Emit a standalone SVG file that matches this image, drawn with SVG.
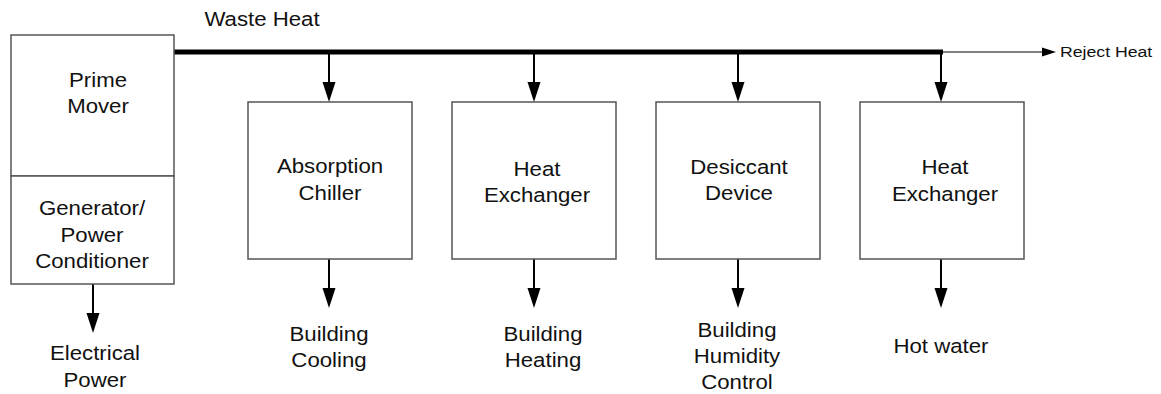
<svg xmlns="http://www.w3.org/2000/svg" xmlns:xlink="http://www.w3.org/1999/xlink" width="1161" height="394" viewBox="0 0 1161 394">
<style>
  .box{fill:#fff;stroke:#555;stroke-width:1.5}
  .t{font-family:"Liberation Sans",Arial,sans-serif;font-size:19.5px;fill:#111;text-anchor:middle}
  .ts{font-family:"Liberation Sans",Arial,sans-serif;font-size:15.5px;fill:#111;text-anchor:start}
  .ln{stroke:#000;stroke-width:2;fill:none}
  .bus{stroke:#000;stroke-width:5;fill:none}
  .thin{stroke:#000;stroke-width:1;fill:none}
</style>
<defs>
  <path id="ah" d="M-6.5,-20 L6.5,-20 L0,0 Z" fill="#000"/>
  <path id="ahr" d="M-14,-4.5 L-14,4.5 L0,0 Z" fill="#000"/>
</defs>
<rect width="1161" height="394" fill="#fff"/>

<g id="connectors">
  <line class="bus" x1="172" y1="52" x2="943" y2="52"/>
  <line class="thin" x1="943" y1="52" x2="1045" y2="52"/>
  <use xlink:href="#ahr" transform="translate(1056,52)"/>
  <line class="ln" x1="329" y1="52" x2="329" y2="85"/>
  <use xlink:href="#ah" transform="translate(329,102)"/>
  <line class="ln" x1="534" y1="52" x2="534" y2="85"/>
  <use xlink:href="#ah" transform="translate(534,102)"/>
  <line class="ln" x1="738" y1="52" x2="738" y2="85"/>
  <use xlink:href="#ah" transform="translate(738,102)"/>
  <line class="ln" x1="941" y1="52" x2="941" y2="85"/>
  <use xlink:href="#ah" transform="translate(941,102)"/>
  <line class="ln" x1="329" y1="259" x2="329" y2="292"/>
  <use xlink:href="#ah" transform="translate(329,308)"/>
  <line class="ln" x1="534" y1="259" x2="534" y2="292"/>
  <use xlink:href="#ah" transform="translate(534,308)"/>
  <line class="ln" x1="738" y1="259" x2="738" y2="292"/>
  <use xlink:href="#ah" transform="translate(738,308)"/>
  <line class="ln" x1="941" y1="259" x2="941" y2="292"/>
  <use xlink:href="#ah" transform="translate(941,308)"/>
  <line class="ln" x1="93" y1="284" x2="93" y2="317"/>
  <use xlink:href="#ah" transform="translate(93,333)"/>
</g>

<g id="waste-heat-label">
  <text class="t" transform="translate(262,26) scale(1.14,1)">Waste Heat</text>
</g>
<g id="reject-heat-label">
  <text class="ts" transform="translate(1060,57) scale(1.14,1)">Reject Heat</text>
</g>

<g id="prime-mover">
  <rect class="box" x="11" y="35" width="163" height="141"/>
  <text class="t" transform="translate(98,87) scale(1.14,1)">Prime</text>
  <text class="t" transform="translate(98,113) scale(1.14,1)">Mover</text>
</g>
<g id="generator">
  <rect class="box" x="11" y="176" width="163" height="108"/>
  <text class="t" transform="translate(92,215) scale(1.14,1)">Generator/</text>
  <text class="t" transform="translate(92,242) scale(1.14,1)">Power</text>
  <text class="t" transform="translate(92,268) scale(1.14,1)">Conditioner</text>
</g>
<g id="electrical-power">
  <text class="t" transform="translate(95,360) scale(1.14,1)">Electrical</text>
  <text class="t" transform="translate(95,387) scale(1.14,1)">Power</text>
</g>

<g id="absorption-chiller">
  <rect class="box" x="248" y="102" width="164" height="157"/>
  <text class="t" transform="translate(330,173) scale(1.14,1)">Absorption</text>
  <text class="t" transform="translate(330,200) scale(1.14,1)">Chiller</text>
</g>
<g id="heat-exchanger-1">
  <rect class="box" x="452" y="102" width="164" height="157"/>
  <text class="t" transform="translate(537,176) scale(1.14,1)">Heat</text>
  <text class="t" transform="translate(537,202) scale(1.14,1)">Exchanger</text>
</g>
<g id="desiccant-device">
  <rect class="box" x="656" y="102" width="164" height="157"/>
  <text class="t" transform="translate(739,174) scale(1.14,1)">Desiccant</text>
  <text class="t" transform="translate(739,200) scale(1.14,1)">Device</text>
</g>
<g id="heat-exchanger-2">
  <rect class="box" x="860" y="102" width="164" height="157"/>
  <text class="t" transform="translate(945,174) scale(1.14,1)">Heat</text>
  <text class="t" transform="translate(945,201) scale(1.14,1)">Exchanger</text>
</g>

<g id="building-cooling">
  <text class="t" transform="translate(329,341) scale(1.14,1)">Building</text>
  <text class="t" transform="translate(329,367) scale(1.14,1)">Cooling</text>
</g>
<g id="building-heating">
  <text class="t" transform="translate(543,341) scale(1.14,1)">Building</text>
  <text class="t" transform="translate(543,367) scale(1.14,1)">Heating</text>
</g>
<g id="building-humidity">
  <text class="t" transform="translate(737,337) scale(1.14,1)">Building</text>
  <text class="t" transform="translate(737,363) scale(1.14,1)">Humidity</text>
  <text class="t" transform="translate(737,389) scale(1.14,1)">Control</text>
</g>
<g id="hot-water">
  <text class="t" transform="translate(941,353) scale(1.14,1)">Hot water</text>
</g>
</svg>
